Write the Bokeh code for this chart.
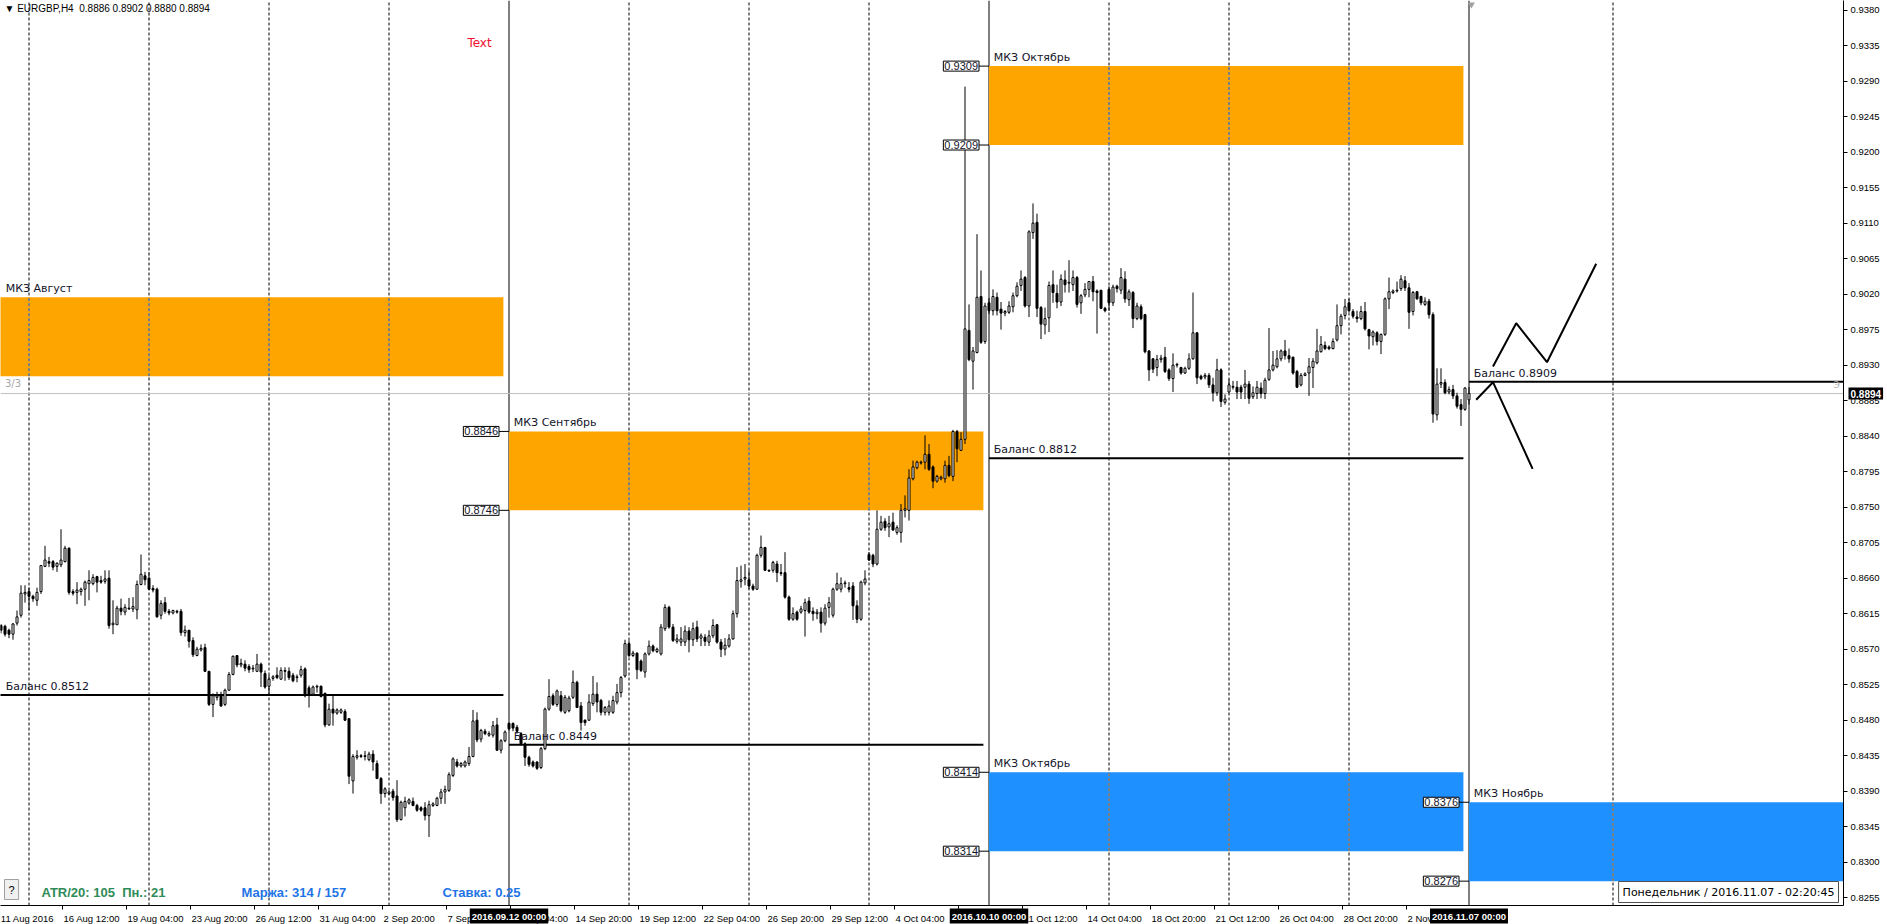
from bokeh.plotting import figure
from bokeh.models import ColumnDataSource, FixedTicker, NumeralTickFormatter, Label
from bokeh.embed import file_html
from bokeh.resources import INLINE

# ---------------- data (prices in 1/10000, EURGBP H4, bar index 0 = 11 Aug 2016 20:00) -------------
OPEN = [
8600,8599,8594,8589,8603,8613,8640,8643,8637,8632,
8643,8675,8681,8681,8675,8677,8681,8698,8643,8642,
8643,8646,8653,8653,8662,8657,8656,8660,8601,8601,
8622,8617,8622,8621,8620,8652,8663,8660,8647,8646,
8613,8629,8618,8616,8618,8618,8591,8594,8581,8562,
8569,8572,8542,8500,8509,8512,8500,8518,8538,8562,
8550,8551,8548,8545,8542,8551,8539,8523,8533,8537,
8532,8543,8542,8537,8534,8537,8545,8521,8513,8522,
8523,8514,8474,8494,8489,8490,8491,8482,8403,8433,
8435,8434,8430,8437,8425,8406,8387,8387,8390,8384,
8354,8369,8375,8377,8372,8369,8369,8359,8372,8372,
8381,8389,8391,8410,8427,8422,8422,8425,8434,8480,
8456,8466,8461,8461,8474,8442,8454,8476,8476,8471,
8463,8450,8433,8427,8427,8420,8444,8494,8511,8500,
8511,8490,8492,8509,8528,8498,8480,8480,8501,8513,
8505,8490,8490,8490,8503,8515,8536,8577,8562,8565,
8555,8541,8564,8574,8567,8564,8596,8623,8598,8580,
8579,8579,8593,8582,8598,8584,8585,8579,8587,8601,
8579,8570,8574,8583,8615,8656,8659,8658,8650,8646,
8689,8699,8670,8670,8678,8667,8667,8636,8608,8617,
8617,8619,8631,8618,8615,8617,8603,8623,8613,8646,
8646,8653,8648,8650,8625,8608,8654,8690,8689,8678,
8722,8732,8725,8731,8718,8718,8746,8746,8786,8800,
8806,8807,8817,8801,8783,8786,8786,8803,8789,8846,
8822,8836,8974,8935,8946,9017,8960,9009,8999,9016,
9001,8996,8997,9004,9018,9031,9041,9005,9098,9111,
9003,8981,8990,9032,9021,9010,9038,9034,9032,9041,
9009,9019,9026,9036,9024,9025,9002,9026,9009,9030,
9025,9039,9013,9022,8989,9004,8994,8948,8938,8927,
8937,8940,8924,8913,8930,8927,8920,8926,8938,8971,
8916,8915,8917,8905,8895,8924,8883,8896,8902,8902,
8902,8902,8906,8890,8894,8901,8894,8912,8924,8928,
8938,8948,8942,8940,8922,8905,8917,8920,8927,8933,
8947,8955,8953,8951,8962,8980,8993,9009,8998,8991,
8989,8998,8975,8966,8971,8960,8969,9014,9022,9024,
9027,9037,9028,8998,9023,9017,9007,9011,8994,8867,
8906,8908,8896,8899,8891,8880,8874,8886]
HIGH = [
8602,8601,8596,8603,8619,8651,8651,8648,8639,8648,
8676,8701,8687,8683,8680,8722,8701,8699,8646,8655,
8648,8657,8670,8665,8663,8663,8670,8670,8632,8625,
8634,8627,8635,8636,8657,8690,8668,8668,8651,8648,
8632,8636,8621,8620,8620,8621,8600,8594,8585,8573,
8576,8577,8542,8514,8516,8516,8520,8541,8562,8562,
8558,8556,8551,8550,8564,8553,8543,8537,8537,8547,
8547,8547,8547,8540,8538,8549,8547,8524,8524,8525,
8524,8515,8501,8513,8495,8495,8494,8482,8437,8442,
8437,8441,8440,8442,8429,8408,8395,8391,8393,8404,
8378,8383,8381,8382,8374,8371,8376,8378,8376,8383,
8393,8397,8414,8433,8431,8427,8429,8446,8493,8490,
8469,8469,8466,8479,8483,8456,8467,8477,8477,8474,
8465,8452,8435,8429,8428,8446,8496,8532,8514,8519,
8517,8512,8511,8543,8530,8503,8481,8513,8536,8528,
8507,8498,8505,8511,8526,8536,8582,8581,8568,8566,
8557,8566,8581,8576,8572,8602,8627,8625,8602,8589,
8598,8600,8598,8604,8606,8590,8589,8594,8608,8602,
8583,8584,8589,8619,8674,8676,8678,8670,8653,8691,
8714,8699,8671,8682,8682,8678,8693,8638,8623,8619,
8625,8634,8636,8623,8621,8623,8627,8636,8648,8667,
8661,8657,8655,8655,8632,8657,8670,8693,8691,8746,
8739,8736,8739,8743,8727,8754,8765,8798,8809,8809,
8809,8841,8830,8803,8791,8790,8809,8815,8848,8848,
8845,9283,9007,8953,9096,9050,9009,9015,9026,9022,
9010,9000,9011,9022,9035,9050,9043,9101,9135,9122,
9005,9003,9036,9050,9032,9045,9050,9063,9050,9043,
9020,9034,9036,9043,9026,9025,9004,9030,9032,9032,
9053,9049,9026,9024,9009,9007,8995,8949,8939,8943,
8943,8953,8926,8945,8933,8928,8928,8945,9022,8972,
8918,8920,8920,8914,8938,8926,8893,8912,8910,8910,
8905,8924,8910,8903,8910,8908,8914,8977,8948,8949,
8950,8962,8951,8941,8924,8920,8921,8939,8939,8976,
8967,8960,8955,8964,9007,8995,9014,9014,9001,8999,
9005,9010,8976,8974,8973,8970,9016,9041,9026,9036,
9044,9043,9034,9024,9024,9018,9016,9014,8997,8926,
8926,8912,8903,8905,8895,8887,8902,8902]
LOW = [
8590,8586,8584,8582,8600,8610,8629,8619,8630,8625,
8640,8674,8674,8670,8668,8674,8680,8639,8638,8627,
8638,8625,8632,8651,8642,8653,8653,8596,8589,8601,
8613,8613,8620,8617,8608,8651,8651,8645,8642,8610,
8608,8615,8613,8614,8615,8587,8586,8572,8560,8561,
8567,8541,8498,8484,8505,8497,8498,8518,8537,8547,
8547,8542,8540,8541,8541,8522,8520,8513,8530,8532,
8531,8530,8531,8528,8528,8534,8509,8496,8511,8515,
8509,8471,8473,8473,8487,8488,8479,8399,8387,8430,
8432,8429,8428,8416,8406,8374,8382,8385,8378,8351,
8353,8358,8373,8371,8364,8364,8353,8332,8370,8371,
8374,8374,8389,8408,8420,8420,8420,8422,8433,8452,
8452,8461,8459,8458,8441,8438,8452,8467,8466,8463,
8448,8422,8421,8420,8417,8418,8442,8492,8498,8497,
8490,8488,8490,8507,8496,8467,8473,8479,8498,8490,
8486,8486,8486,8488,8500,8509,8534,8560,8560,8532,
8541,8534,8562,8566,8565,8562,8593,8596,8579,8577,
8574,8574,8566,8574,8579,8574,8574,8574,8584,8577,
8560,8562,8572,8582,8610,8648,8651,8646,8644,8645,
8686,8669,8668,8667,8655,8663,8634,8606,8606,8606,
8615,8586,8615,8606,8608,8591,8600,8610,8610,8644,
8642,8648,8642,8607,8603,8606,8651,8682,8674,8676,
8720,8720,8712,8720,8715,8705,8737,8733,8784,8798,
8804,8798,8796,8774,8781,8784,8781,8788,8783,8807,
8822,8830,8935,8899,8945,8957,8957,8995,8993,8993,
8975,8992,8995,8997,9016,9024,9003,8991,9090,8991,
8963,8969,8972,9009,9002,9005,9022,9022,9024,9003,
8995,9016,9016,9011,8970,9001,8997,8999,9005,9022,
9020,9009,9005,8977,8987,8987,8945,8910,8920,8916,
8933,8920,8910,8896,8927,8918,8919,8924,8937,8906,
8911,8912,8901,8884,8891,8877,8880,8893,8899,8887,
8887,8887,8881,8887,8887,8888,8887,8910,8922,8926,
8935,8937,8933,8918,8901,8903,8916,8891,8901,8931,
8946,8949,8949,8950,8960,8969,8988,8997,8989,8984,
8987,8974,8950,8955,8955,8944,8967,9001,9020,9022,
9024,9024,8976,8993,9013,9006,9005,8989,8857,8860,
8901,8893,8893,8887,8875,8853,8872,8880]
CLOSE = [
8594,8589,8589,8602,8611,8641,8642,8637,8634,8642,
8676,8683,8679,8674,8679,8683,8698,8642,8641,8645,
8646,8655,8657,8661,8655,8655,8659,8600,8603,8622,
8618,8623,8621,8624,8652,8665,8658,8646,8645,8611,
8628,8618,8616,8619,8617,8591,8594,8580,8563,8570,
8571,8542,8500,8511,8511,8498,8518,8538,8561,8550,
8552,8546,8544,8546,8551,8541,8522,8532,8535,8534,
8543,8542,8534,8530,8535,8544,8511,8513,8522,8523,
8510,8474,8494,8489,8493,8493,8480,8409,8434,8435,
8434,8435,8437,8427,8406,8387,8393,8389,8382,8354,
8376,8377,8379,8372,8366,8366,8359,8373,8374,8381,
8389,8392,8411,8431,8422,8425,8427,8434,8479,8455,
8467,8463,8463,8473,8442,8454,8465,8469,8470,8466,
8450,8433,8424,8422,8419,8444,8494,8510,8500,8517,
8492,8509,8508,8528,8496,8477,8477,8503,8513,8503,
8490,8496,8498,8505,8515,8534,8577,8562,8565,8544,
8543,8564,8574,8568,8570,8598,8623,8598,8581,8583,
8583,8593,8582,8596,8583,8587,8580,8587,8600,8579,
8570,8575,8583,8615,8657,8658,8661,8650,8646,8689,
8699,8670,8669,8680,8667,8666,8636,8608,8615,8608,
8621,8629,8617,8615,8617,8603,8622,8629,8646,8653,
8653,8654,8646,8625,8608,8655,8659,8683,8678,8722,
8731,8724,8729,8721,8724,8746,8748,8787,8801,8807,
8807,8817,8798,8783,8789,8788,8803,8790,8846,8824,
8836,8976,8937,8948,9016,8959,9005,8999,9017,8999,
8996,8998,9005,9018,9030,9039,9005,9099,9110,9002,
8982,8989,9031,9022,9010,9039,9032,9035,9041,9007,
9018,9026,9036,9023,9022,9002,8999,9009,9029,9027,
9041,9014,9023,8989,9005,8989,8947,8924,8925,8937,
8939,8922,8913,8930,8931,8920,8926,8938,8971,8914,
8913,8917,8905,8895,8924,8884,8887,8905,8903,8896,
8896,8906,8888,8895,8902,8894,8911,8924,8930,8938,
8948,8942,8938,8920,8902,8917,8919,8928,8935,8948,
8956,8951,8951,8960,8980,8992,9004,8999,8992,8989,
8998,8976,8967,8972,8960,8969,9014,9023,9024,9025,
9039,9028,8997,9022,9014,9009,9011,8994,8868,8906,
8908,8895,8899,8891,8878,8874,8901,8894]

# weekly separators (Monday 00:00) and month starts, as bar indices
WEEK_IDX = [7, 37, 67, 97, 157, 187, 217, 277, 307, 337, 403]
MONTH_IDX = [127, 247, 367]
MONTH_TEXT = ["2016.09.12 00:00", "2016.10.10 00:00", "2016.11.07 00:00"]

# time axis labels
TIME_IDX = [0, 16, 32, 48, 64, 80, 96, 112, 128, 144, 160, 176, 192, 208, 224,
            240, 256, 272, 288, 304, 320, 336, 352]
TIME_TEXT = ["11 Aug 2016", "16 Aug 12:00", "19 Aug 04:00", "23 Aug 20:00", "26 Aug 12:00",
             "31 Aug 04:00", "2 Sep 20:00", "7 Sep 12:00", "12 Sep 04:00", "14 Sep 20:00",
             "19 Sep 12:00", "22 Sep 04:00", "26 Sep 20:00", "29 Sep 12:00", "4 Oct 04:00",
             "6 Oct 20:00", "11 Oct 12:00", "14 Oct 04:00", "18 Oct 20:00", "21 Oct 12:00",
             "26 Oct 04:00", "28 Oct 20:00", "2 Nov 12:00"]

# price axis ticks
Y_TICKS = [0.8255, 0.8300, 0.8345, 0.8390, 0.8435, 0.8480, 0.8525, 0.8570, 0.8615, 0.8660,
           0.8705, 0.8750, 0.8795, 0.8840, 0.8885, 0.8930, 0.8975, 0.9020, 0.9065,
           0.9110, 0.9155, 0.9200, 0.9245, 0.9290, 0.9335, 0.9380]

# zones (МКЗ)
ZONE_NAME = ["МКЗ Август", "МКЗ Сентябрь", "МКЗ Октябрь", "МКЗ Октябрь", "МКЗ Ноябрь"]
ZONE_START = [-5, 127, 247, 247, 367]
ZONE_END = [125.6, 245.6, 365.6, 365.6, 480]
ZONE_TOP = [0.9016, 0.8846, 0.9309, 0.8414, 0.8376]
ZONE_BOTTOM = [0.8916, 0.8746, 0.9209, 0.8314, 0.8276]
ZONE_KIND = ["up", "up", "up", "down", "down"]

# balance levels
BAL_VALUE = [0.8512, 0.8449, 0.8812, 0.8909]
BAL_START = [-5, 127, 247, 367]
BAL_END = [125.6, 245.6, 365.6, 480]

BID = 0.8894

# hand-drawn projection lines
ZZ_UP_X = [373.0, 378.8, 386.5, 398.8]
ZZ_UP_Y = [0.89283, 0.89832, 0.89337, 0.90585]
ZZ_DN_X = [368.8, 373.0, 382.9]
ZZ_DN_Y = [0.88861, 0.89084, 0.87986]

# ---------------- layout ----------------
BAR_PX = 4.0
PRICE_PX = 7890.0
FRAME_W = 1843
FRAME_H = 905
X0 = -0.125
X1 = X0 + FRAME_W / BAR_PX
Y1 = 0.9380 + 9.6 / PRICE_PX
Y0 = Y1 - FRAME_H / PRICE_PX
PX = 1.0 / PRICE_PX

ORANGE = "#FFA500"
BLUE = "#1E90FF"
INV = {"up": "#005AFF", "down": "#E16F00"}
TXT = "#14142a"
AXIS_FONT = "Liberation Sans"
NBSP = "\u00a0"
DASH = "3 2"

# rough Arial/Liberation advance widths (em) for centring MT4-style left-aligned time labels
CW = {"A": 0.667, "S": 0.667, "O": 0.778, "N": 0.722, "u": 0.556, "g": 0.556, "e": 0.556,
      "p": 0.556, "c": 0.5, "t": 0.278, "o": 0.556, "v": 0.5, " ": 0.278, ":": 0.278, ".": 0.278}


def text_w(s, size):
    return sum(CW.get(ch, 0.556) for ch in s) * size


def sy(price):
    return (price - Y0) * PRICE_PX


p = figure(frame_width=FRAME_W, frame_height=FRAME_H, x_range=(X0, X1), y_range=(Y0, Y1),
           output_backend="svg", toolbar_location=None, title=None,
           x_axis_location="below", y_axis_location="right",
           min_border_left=0, min_border_top=0, min_border_right=0, min_border_bottom=15)
p.outline_line_color = None
p.background_fill_color = "white"
p.border_fill_color = "white"
p.grid.visible = False

# price axis
p.yaxis.ticker = FixedTicker(ticks=Y_TICKS)
p.yaxis.formatter = NumeralTickFormatter(format="0.0000")
p.yaxis.major_label_text_font = AXIS_FONT
p.yaxis.major_label_text_font_size = "9.5px"
p.yaxis.major_label_text_color = "black"
p.yaxis.major_tick_out = 4
p.yaxis.major_tick_in = 0
p.yaxis.minor_tick_out = 0
p.yaxis.minor_tick_in = 0
p.yaxis.major_label_standoff = 3
p.yaxis.axis_line_color = "black"

# time axis: labels centred where MT4 starts them, small marks (minor ticks) at the MT4 tick spots
LBL_SIZE = 9.5
centres, overrides = [], {}
for i, t in zip(TIME_IDX, TIME_TEXT):
    start = max(BAR_PX * i - 1.0, 0.0)
    cx = X0 + (start + text_w(t, LBL_SIZE) / 2.0) / BAR_PX
    centres.append(cx)
    overrides[cx] = t
p.xaxis.ticker = FixedTicker(ticks=centres, minor_ticks=[i - 0.75 for i in TIME_IDX])
p.xaxis.major_label_overrides = overrides
p.xaxis.major_label_text_font = AXIS_FONT
p.xaxis.major_label_text_font_size = "9.5px"
p.xaxis.major_label_text_color = "black"
p.xaxis.major_label_standoff = 3
p.xaxis.major_tick_out = 0
p.xaxis.major_tick_in = 0
p.xaxis.major_tick_line_color = None
p.xaxis.minor_tick_out = 4
p.xaxis.minor_tick_in = 0
p.xaxis.minor_tick_line_color = "black"
p.xaxis.axis_line_color = "black"

# separators
p.segment(x0=WEEK_IDX, y0=[Y0] * len(WEEK_IDX), x1=WEEK_IDX, y1=[Y1] * len(WEEK_IDX),
          line_color="black", line_width=1, line_dash=DASH)
p.segment(x0=MONTH_IDX, y0=[Y0] * len(MONTH_IDX), x1=MONTH_IDX, y1=[Y1] * len(MONTH_IDX),
          line_color="black", line_width=1)

# zones
p.quad(left=ZONE_START, right=ZONE_END, top=ZONE_TOP, bottom=ZONE_BOTTOM,
       fill_color=[ORANGE if k == "up" else BLUE for k in ZONE_KIND], line_color=None)
dx, dy0, dy1, dc = [], [], [], []
for s, e, t, b, k in zip(ZONE_START, ZONE_END, ZONE_TOP, ZONE_BOTTOM, ZONE_KIND):
    for w in WEEK_IDX:
        if s < w < e:
            dx.append(w); dy0.append(b); dy1.append(t); dc.append(INV[k])
p.segment(x0=dx, y0=dy0, x1=dx, y1=dy1, line_color=dc, line_width=1, line_dash=DASH)

# bid line
p.segment(x0=[X0], y0=[BID], x1=[X1], y1=[BID], line_color="#C0C0C0", line_width=1)

# balance lines
p.segment(x0=BAL_START, y0=BAL_VALUE, x1=BAL_END, y1=BAL_VALUE, line_color="black", line_width=2)

# candles
n = len(CLOSE)
o = [v / 10000 for v in OPEN]
h = [v / 10000 for v in HIGH]
l = [v / 10000 for v in LOW]
c = [v / 10000 for v in CLOSE]
src = ColumnDataSource(dict(
    x=list(range(n)), high=h, low=l,
    top=[max(a, b) for a, b in zip(o, c)],
    bottom=[min(a, b) for a, b in zip(o, c)],
    fill=["white" if b >= a else "black" for a, b in zip(o, c)],
))
p.segment(x0="x", y0="low", x1="x", y1="high", line_color="black", line_width=1, source=src)
p.vbar(x="x", width=0.5, top="top", bottom="bottom", fill_color="fill",
       line_color="black", line_width=1, source=src)

# projection lines
p.line(ZZ_UP_X, ZZ_UP_Y, line_color="black", line_width=2)
p.line(ZZ_DN_X, ZZ_DN_Y, line_color="black", line_width=2)

# chart shift marker
p.scatter([367.6], [Y1 - 4 * PX], marker="inverted_triangle", size=7,
          fill_color="#A0A0A0", line_color=None)

# zone names and price tags
for name, s, t, b in zip(ZONE_NAME, ZONE_START, ZONE_TOP, ZONE_BOTTOM):
    xs = max(s, X0 + 0.1) + 1.2
    p.add_layout(Label(x=xs, y=t + 2 * PX, text=name, text_align="left", text_baseline="bottom",
                       text_font="DejaVu Sans", text_font_size="11px", text_color=TXT))
    if s > X0:
        for val in (t, b):
            p.add_layout(Label(x=s - 2.5, y=val, text=f"{val:.4f}", text_align="right",
                               text_baseline="middle", text_font=AXIS_FONT,
                               text_font_size="11px", text_color=TXT,
                               background_fill_color="white", border_line_color="black",
                               border_line_width=1, padding=1))
            p.segment(x0=[s - 2.5], y0=[val], x1=[s], y1=[val], line_color="black", line_width=1)

for v, s in zip(BAL_VALUE, BAL_START):
    xs = max(s, X0 + 0.1) + 1.2
    p.add_layout(Label(x=xs, y=v + 2 * PX, text=f"Баланс {v:.4f}", text_align="left",
                       text_baseline="bottom", text_font="DejaVu Sans", text_font_size="11px",
                       text_color=TXT))

# misc chart texts
p.add_layout(Label(x=1.0, y=0.8907, text="3/3", text_align="left", text_baseline="middle",
                   text_font="DejaVu Sans", text_font_size="10px", text_color="#A8A8A8"))
p.add_layout(Label(x=116.6, y=0.93389, text="Text", text_align="left", text_baseline="middle",
                   text_font="DejaVu Sans", text_font_size="12px", text_color="#F01030"))
p.add_layout(Label(x=FRAME_W - 10, y=sy(BAL_VALUE[3]) - 3, x_units="screen", y_units="screen",
                   text="Э", text_align="left", text_baseline="middle", text_font="DejaVu Sans",
                   text_font_size="9px", text_color="#B0B0B0"))
p.add_layout(Label(x=4, y=FRAME_H - 2, x_units="screen", y_units="screen",
                   text="▼ EURGBP,H4" + NBSP + " 0.8886 0.8902 0.8880 0.8894", text_align="left",
                   text_baseline="top", text_font=AXIS_FONT, text_font_size="10px",
                   text_color="black"))

# bottom info panel
p.add_layout(Label(x=4, y=6, x_units="screen", y_units="screen", text="?", text_align="left",
                   text_baseline="bottom", text_font=AXIS_FONT, text_font_size="11px",
                   text_color="black", background_fill_color="#F0F0F0",
                   border_line_color="#A0A0A0", padding=4))
for xtxt, txt, col in [(41, "ATR/20: 105" + NBSP + " Пн.: 21", "#2E8B57"),
                       (241, "Маржа: 314 / 157", "#1E74E6"),
                       (442, "Ставка: 0.25", "#1E74E6")]:
    p.add_layout(Label(x=xtxt, y=13, x_units="screen", y_units="screen", text=txt,
                       text_align="left", text_baseline="middle", text_font=AXIS_FONT,
                       text_font_size="13px", text_font_style="bold", text_color=col))
p.add_layout(Label(x=FRAME_W - 5, y=3, x_units="screen", y_units="screen",
                   text="Понедельник / 2016.11.07 - 02:20:45", text_align="right",
                   text_baseline="bottom", text_font="DejaVu Sans", text_font_size="11px",
                   text_color="black", background_fill_color="white",
                   border_line_color="#505050", padding=4))

# month-start highlights on the time axis (placed in the axis panel so they are not clipped)
for mi, mt in zip(MONTH_IDX, MONTH_TEXT):
    p.add_layout(Label(x=mi, y=Y0 - 10.5 * PX, text=mt,
                       text_align="center", text_baseline="middle", text_font=AXIS_FONT,
                       text_font_size="9.5px", text_font_style="bold", text_color="white",
                       background_fill_color="black", padding=2), "below")

# bid tag on the price axis
p.add_layout(Label(x=X1 + 5 / BAR_PX, y=BID, text=f"{BID:.4f}", text_align="left",
                   text_baseline="middle", text_font=AXIS_FONT, text_font_size="10px",
                   text_font_style="bold", text_color="white", background_fill_color="black",
                   padding=2), "right")

open("out.html", "w").write(file_html(p, INLINE))
